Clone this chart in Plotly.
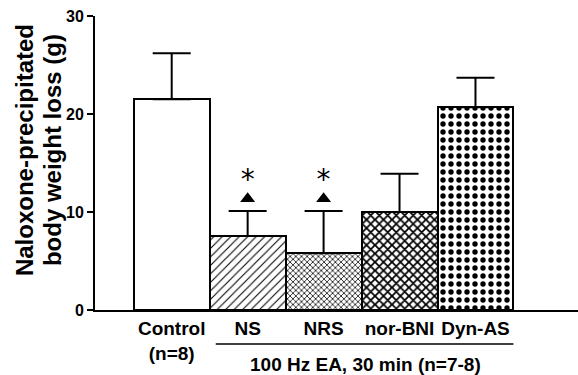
import plotly.graph_objects as go

categories = ["Control", "NS", "NRS", "nor-BNI", "Dyn-AS"]
tick_labels = ["Control<br>(n=8)", "NS", "NRS", "nor-BNI", "Dyn-AS"]
means = [21.5, 7.55, 5.8, 10.0, 20.7]
sem = [4.7, 2.55, 4.3, 3.9, 3.0]
significant = [False, True, True, False, False]
y_ticks = [0, 10, 20, 30]
group_label = "100 Hz EA, 30 min (n=7-8)"
y_title = ["Naloxone-precipitated", "body weight loss (g)"]

patterns = ["", "/", "x", "x", "."]
pat_size = [8, 6, 4, 6, 8]
pat_sol = [0.3, 0.18, 0.35, 0.5, 0.35]

FONT = "Liberation Sans, Arial, sans-serif"

fig = go.Figure()
for i, c in enumerate(categories):
    fig.add_trace(go.Bar(
        x=[c], y=[means[i]],
        width=1.0,
        marker=dict(
            color="white",
            line=dict(color="black", width=2),
            pattern=dict(shape=patterns[i], size=pat_size[i], solidity=pat_sol[i],
                         fgcolor="black", bgcolor="white", fillmode="replace"),
        ),
        error_y=dict(type="data", symmetric=False, array=[sem[i]], arrayminus=[0],
                     color="black", thickness=2, width=19),
        showlegend=False,
    ))

sig_x = [c for c, s in zip(categories, significant) if s]
sig_top = [m + e for m, e, s in zip(means, sem, significant) if s]
fig.add_trace(go.Scatter(
    x=sig_x, y=[t + 1.25 for t in sig_top], mode="markers",
    marker=dict(symbol="triangle-up", size=13, color="black"),
    showlegend=False,
))
fig.add_trace(go.Scatter(
    x=sig_x, y=[t + 3.0 for t in sig_top], mode="text", text=["*"] * len(sig_x),
    textfont=dict(family="DejaVu Sans", size=28, color="black"),
    showlegend=False,
))

fig.update_layout(
    width=578, height=375,
    margin=dict(l=95, r=0, t=16, b=65),
    paper_bgcolor="white", plot_bgcolor="white",
    bargap=0,
    xaxis=dict(
        type="category", categoryorder="array", categoryarray=categories,
        tickmode="array", tickvals=categories, ticktext=tick_labels,
        range=[-1.01, 5.35],
        showline=True, linecolor="black", linewidth=2, ticks="",
        tickfont=dict(family=FONT, size=19, color="black", weight="bold"),
        showgrid=False, zeroline=False,
    ),
    yaxis=dict(
        range=[0, 30], tickvals=y_ticks,
        showline=True, linecolor="black", linewidth=2,
        ticks="outside", ticklen=6, tickwidth=2, tickcolor="black",
        tickfont=dict(family=FONT, size=16, color="black", weight="bold"),
        showgrid=False, zeroline=False,
    ),
)

# bracket line under treated groups and group label
fig.add_shape(type="line", xref="x", yref="paper", x0=0.58, x1=4.5, y0=-0.116, y1=-0.116,
              line=dict(color="black", width=1.5))
fig.add_annotation(text=group_label, xref="x", yref="paper", x=2.55, y=-0.187,
                   showarrow=False, yanchor="middle",
                   font=dict(family=FONT, size=19, color="black", weight="bold"))

# y title as two rotated lines
for txt, xp in zip(y_title, [24, 52]):
    fig.add_annotation(text=txt, xref="paper", yref="paper",
                       x=(xp - 95) / 483, y=0.544, textangle=-90, showarrow=False,
                       xanchor="center", yanchor="middle",
                       font=dict(family=FONT, size=24, color="black", weight="bold"))

fig.write_html("out.html", config={"displayModeBar": False},
               post_script="document.body.style.margin='0';document.body.style.overflow='hidden';")
